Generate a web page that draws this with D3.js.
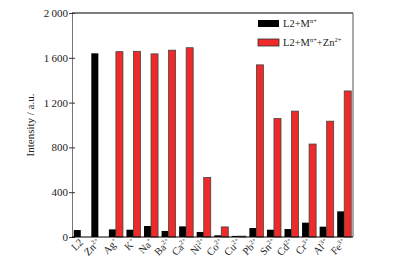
<!DOCTYPE html>
<html>
<head>
<meta charset="utf-8">
<script src="https://cdn.jsdelivr.net/npm/d3@7"></script>
<style>
  body { margin: 0; background: #fff; }
  svg { display: block; font-family: "Liberation Serif", "DejaVu Serif", serif; }
</style>
</head>
<body>
<script>
// Data
const ions = ["L2", "Zn", "Ag", "K", "Na", "Ba", "Ca", "Ni", "Co", "Cu", "Pb", "Sn", "Cd", "Cr", "Al", "Fe"];
const charges = ["", "2+", "+", "+", "+", "2+", "2+", "2+", "2+", "2+", "2+", "2+", "2+", "3+", "3+", "3+"];
const metalOnly = [62, 1640, 68, 65, 98, 54, 95, 45, 15, 10, 80, 65, 71, 128, 92, 229];
const metalZinc = [null, null, 1655, 1658, 1635, 1668, 1690, 532, 90, 8, 1537, 1058, 1124, 830, 1034, 1304];
const yTicks = [0, 400, 800, 1200, 1600, 2000];
const seriesNames = ["L2+M", "L2+M"];

const w = 411, h = 272;
const margin = { top: 13, right: 58, bottom: 35, left: 72 };

const svg = d3.select("body").append("svg")
  .attr("width", w)
  .attr("height", h);

const x = d3.scaleBand()
  .domain(ions)
  .range([margin.left, w - margin.right])
  .paddingInner(0.2)
  .paddingOuter(0.1);

const y = d3.scaleLinear()
  .domain([0, 2000])
  .range([h - margin.bottom, margin.top]);

const barW = x.bandwidth() / 2;

// frame: top and right lines
svg.append("line")
  .attr("x1", margin.left).attr("x2", w - margin.right)
  .attr("y1", margin.top).attr("y2", margin.top)
  .attr("stroke", "#000").attr("stroke-width", 1);
svg.append("line")
  .attr("x1", w - margin.right).attr("x2", w - margin.right)
  .attr("y1", margin.top).attr("y2", h - margin.bottom)
  .attr("stroke", "#555").attr("stroke-width", 1);

// black bars
svg.selectAll("rect.m")
  .data(ions)
  .enter()
  .append("rect")
  .attr("class", "m")
  .attr("x", d => x(d))
  .attr("y", (d, i) => y(metalOnly[i]))
  .attr("width", barW)
  .attr("height", (d, i) => y(0) - y(metalOnly[i]))
  .attr("fill", "#000");

// red bars
svg.selectAll("rect.z")
  .data(ions.filter((d, i) => metalZinc[i] !== null))
  .enter()
  .append("rect")
  .attr("class", "z")
  .attr("x", d => x(d) + barW)
  .attr("y", d => y(metalZinc[ions.indexOf(d)]))
  .attr("width", barW)
  .attr("height", d => y(0) - y(metalZinc[ions.indexOf(d)]))
  .attr("fill", "#ee2a2a")
  .attr("stroke", "#444")
  .attr("stroke-width", 0.8);

// y axis
const yAxis = svg.append("g")
  .attr("transform", `translate(${margin.left},0)`)
  .call(d3.axisLeft(y)
    .tickValues(yTicks)
    .tickSize(3)
    .tickFormat(d => d >= 1000 ? d3.format(",")(d).replace(",", "\u2009") : d));
yAxis.select(".domain").attr("stroke", "#777");
yAxis.selectAll(".tick line").attr("stroke", "#333").attr("x2", 3).attr("x1", -3);
yAxis.selectAll(".tick text")
  .attr("x", -4)
  .attr("font-family", "Liberation Serif")
  .attr("font-size", 11)
  .attr("fill", "#222");

// x axis line
svg.append("line")
  .attr("x1", margin.left).attr("x2", w - margin.right)
  .attr("y1", y(0)).attr("y2", y(0))
  .attr("stroke", "#000").attr("stroke-width", 1);

// x labels, rotated
const xl = svg.selectAll("text.xl")
  .data(ions)
  .enter()
  .append("text")
  .attr("class", "xl")
  .attr("text-anchor", "end")
  .attr("font-size", 10.5)
  .attr("fill", "#222")
  .attr("transform", d => `translate(${x(d) + x.bandwidth() / 2 + 3},${y(0) + 6}) rotate(-45)`);
xl.append("tspan").text(d => d);
xl.append("tspan")
  .attr("dy", -4)
  .attr("font-size", 6.5)
  .text((d, i) => charges[i]);

// y label
svg.append("text")
  .attr("transform", `translate(34,${(margin.top + h - margin.bottom) / 2}) rotate(-90)`)
  .attr("text-anchor", "middle")
  .attr("font-size", 11)
  .attr("fill", "#222")
  .text("Intensity / a.u.");

// legend
const legend = svg.append("g").attr("transform", "translate(258,20)");
const lcol = ["#000", "#ee2a2a"];
const lsup = [["n+"], ["n+", "+Zn", "2+"]];
lcol.forEach((c, i) => {
  legend.append("rect")
    .attr("x", 0).attr("y", i * 19)
    .attr("width", 21).attr("height", 7)
    .attr("fill", c)
    .attr("stroke", i ? "#333" : "none")
    .attr("stroke-width", 0.8);
  const t = legend.append("text")
    .attr("x", 25).attr("y", i * 19 + 7)
    .attr("font-size", 10.5)
    .attr("fill", "#222");
  t.append("tspan").text(seriesNames[i]);
  t.append("tspan").attr("dy", -4).attr("font-size", 6.5).text("n+");
  if (i) {
    t.append("tspan").attr("dy", 4).text("+Zn");
    t.append("tspan").attr("dy", -4).attr("font-size", 6.5).text("2+");
  }
});
</script>
</body>
</html>
